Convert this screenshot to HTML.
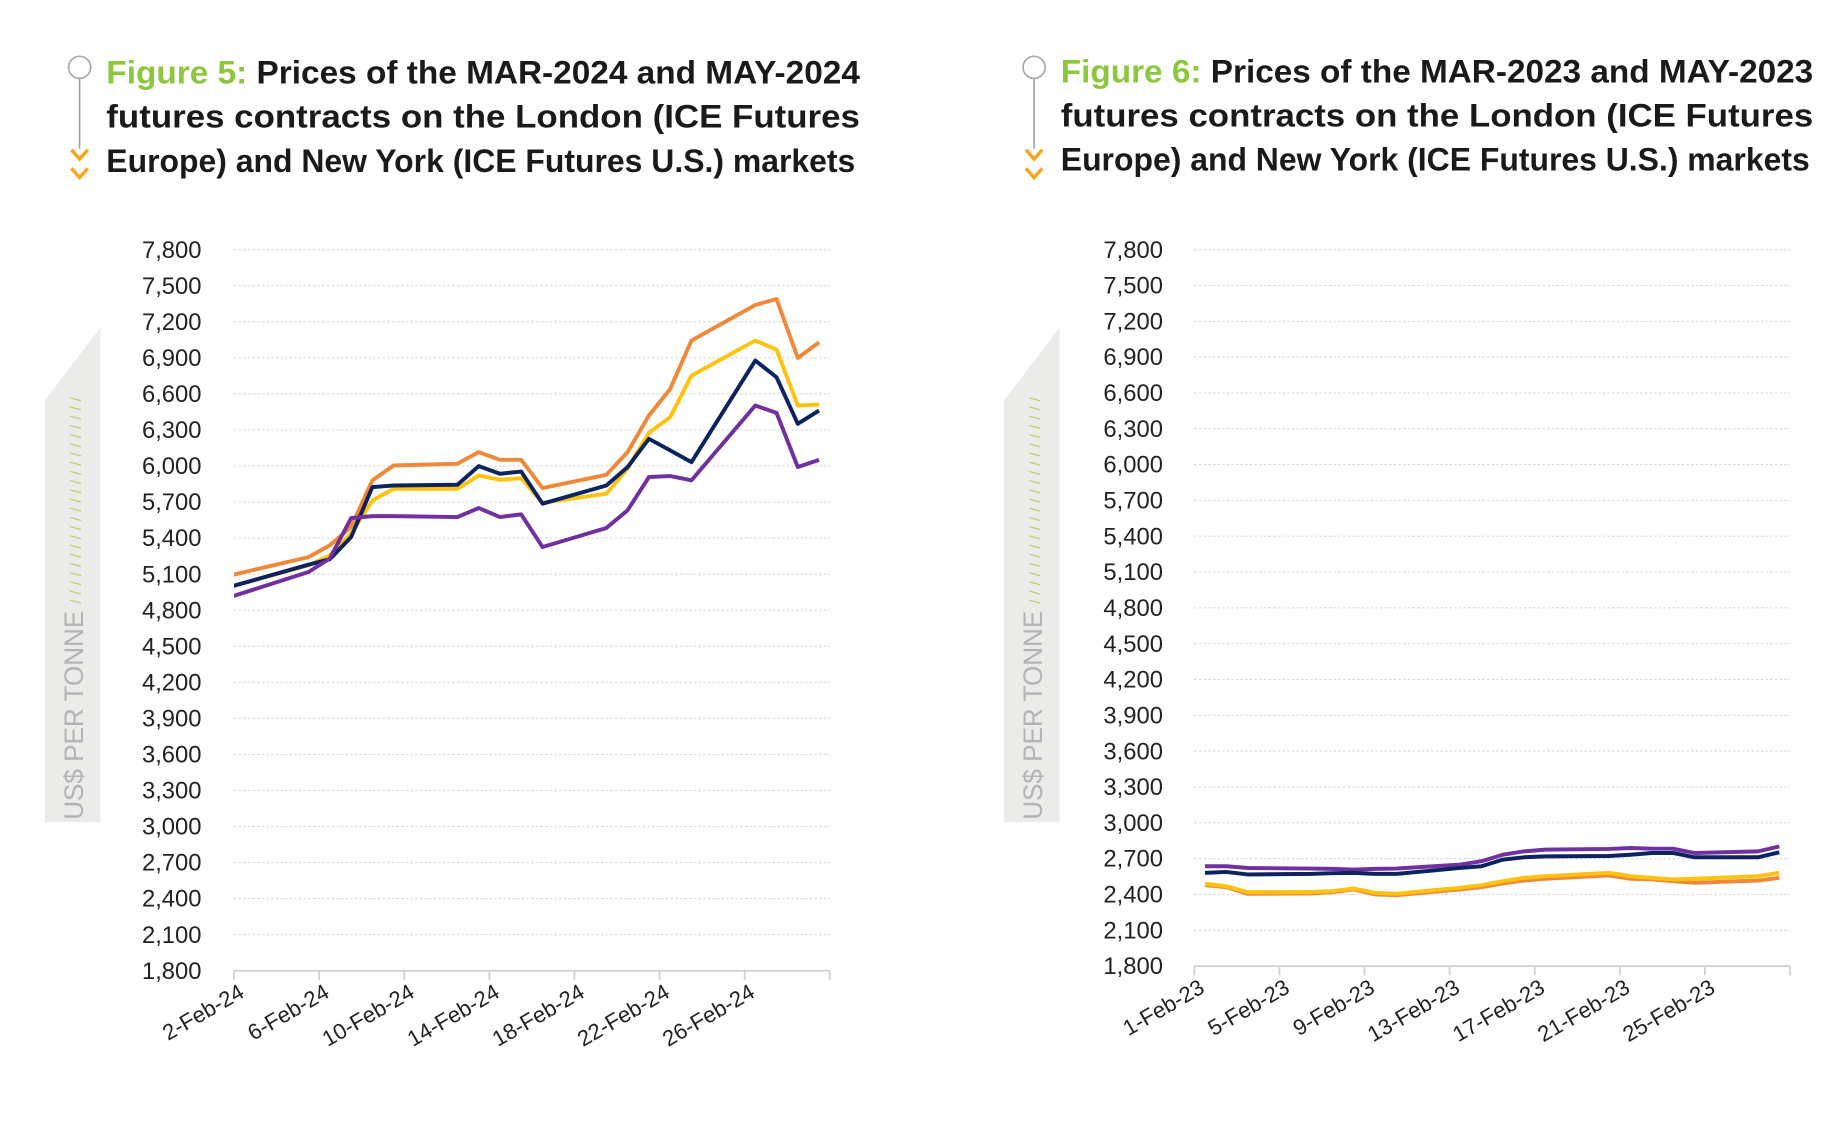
<!DOCTYPE html>
<html><head><meta charset="utf-8"><style>
html,body{margin:0;padding:0;background:#fff;}
svg{display:block;font-family:"Liberation Sans",sans-serif;}
</style></head><body>
<svg id="root" width="1822" height="1124" viewBox="0 0 1568 968" xmlns="http://www.w3.org/2000/svg">
<g id="titles">
  <g>
    <circle cx="68" cy="58" r="9.5" fill="#fff" stroke="#aaa" stroke-width="1.5"/>
    <line x1="68" y1="68" x2="68" y2="128" stroke="#999" stroke-width="1.3"/>
    <path d="M61,129 L68,137 L75,129" fill="none" stroke="#F5A623" stroke-width="3"/>
    <path d="M61,145 L68,153 L75,145" fill="none" stroke="#F5A623" stroke-width="3"/>
  </g>
  <text x="91" y="72" font-size="28" font-weight="bold" textLength="649" lengthAdjust="spacingAndGlyphs" fill="#1a1a1a"><tspan fill="#8DC63F">Figure 5:</tspan> Prices of the MAR-2024 and MAY-2024</text>
  <text x="91" y="110" font-size="28" font-weight="bold" textLength="649" lengthAdjust="spacingAndGlyphs" fill="#1a1a1a">futures   contracts   on   the   London   (ICE   Futures</text>
  <text x="91" y="148" font-size="28" font-weight="bold" textLength="645" lengthAdjust="spacingAndGlyphs" fill="#1a1a1a">Europe) and New York (ICE Futures U.S.) markets</text>

  <g>
    <circle cx="890" cy="58" r="9.5" fill="#fff" stroke="#aaa" stroke-width="1.5"/>
    <line x1="890" y1="68" x2="890" y2="128" stroke="#999" stroke-width="1.3"/>
    <path d="M883,129 L890,137 L897,129" fill="none" stroke="#F5A623" stroke-width="3"/>
    <path d="M883,145 L890,153 L897,145" fill="none" stroke="#F5A623" stroke-width="3"/>
  </g>
  <text x="913" y="71" font-size="28" font-weight="bold" textLength="648" lengthAdjust="spacingAndGlyphs" fill="#1a1a1a"><tspan fill="#8DC63F">Figure 6:</tspan> Prices of the MAR-2023 and MAY-2023</text>
  <text x="913" y="109" font-size="28" font-weight="bold" textLength="648" lengthAdjust="spacingAndGlyphs" fill="#1a1a1a">futures   contracts   on   the   London   (ICE   Futures</text>
  <text x="913" y="147" font-size="28" font-weight="bold" textLength="645" lengthAdjust="spacingAndGlyphs" fill="#1a1a1a">Europe) and New York (ICE Futures U.S.) markets</text>
</g>
<g id="chart5"></g>
<g id="chart6"></g>
</svg>
<script>
// ---- Figure 5 data (Feb 2024) ----
const days5 = [1,5,6,7,8,9,12,13,14,15,16,19,20,21,22,23,26,27,28,29];
const londonMar5 = [5076,5242,5339,5492,5880,6004,6018,6115,6051,6051,5816,5927,6115,6420,6641,7043,7339,7389,6899,7029];
const londonMay5 = [4979,5173,5256,5436,5713,5810,5810,5921,5885,5899,5694,5769,5977,6276,6406,6752,7043,6968,6503,6511];
const nyMar5 = [4979,5179,5223,5408,5824,5838,5843,5999,5935,5954,5686,5838,5990,6226,6129,6032,6877,6738,6351,6461];
const nyMay5 = [4891,5118,5229,5566,5583,5583,5575,5650,5575,5597,5326,5484,5631,5908,5916,5880,6503,6442,5991,6051];
const xTicks5 = ["2-Feb-24","6-Feb-24","10-Feb-24","14-Feb-24","18-Feb-24","22-Feb-24","26-Feb-24"];
// ---- Figure 6 data (Feb 2023) ----
const days6 = [1,2,3,6,7,8,9,10,13,14,15,16,17,20,21,22,23,24,27,28];
const londonMar6 = [2478,2461,2406,2408,2419,2442,2400,2394,2442,2461,2492,2517,2531,2559,2531,2525,2511,2497,2517,2539];
const londonMay6 = [2489,2469,2419,2419,2428,2450,2414,2406,2456,2478,2511,2539,2553,2581,2553,2539,2525,2531,2553,2581];
const nyMar6 = [2581,2589,2567,2572,2578,2581,2572,2572,2622,2636,2692,2711,2719,2722,2733,2747,2747,2711,2711,2753];
const nyMay6 = [2636,2636,2622,2617,2614,2608,2614,2617,2650,2678,2733,2761,2775,2781,2789,2783,2783,2747,2761,2803];
const xTicks6 = ["1-Feb-23","5-Feb-23","9-Feb-23","13-Feb-23","17-Feb-23","21-Feb-23","25-Feb-23"];
const yTicks = [1800,2100,2400,2700,3000,3300,3600,3900,4200,4500,4800,5100,5400,5700,6000,6300,6600,6900,7200,7500,7800];

const NS="http://www.w3.org/2000/svg";
function mk(tag,attrs,parent){const e=document.createElementNS(NS,tag);for(const k in attrs)e.setAttribute(k,attrs[k]);parent.appendChild(e);return e;}

function drawChart(g, cfg){
  const {x0,x1,yTop,yBot,firstDay,labelX,bandX,ticks,days,series,order,id}=cfg;
  const dayW=(x1-x0)/28;
  const xs=d=>x0+(d-firstDay+0.5)*dayW;
  const ys=v=>yBot-(v-1800)/6000*(yBot-yTop);
  const band=mk('path',{d:`M${bandX},345 L${bandX+48},282 L${bandX+48},708 L${bandX},708 Z`,fill:'#ebebea'},g);
  
  
  const yt=mk('text',{x:0,y:0,transform:`translate(${bandX+33},706) rotate(-90)`,'font-size':'23','fill':'#b3b3b3','textLength':'180','lengthAdjust':'spacingAndGlyphs'},g);
  yt.textContent='US$ PER TONNE';
  
  
  const hatch=mk('text',{x:0,y:0,transform:`translate(${bandX+31},520) rotate(-90)`,'font-size':'13','fill':'#b5cf6a','textLength':'178','lengthAdjust':'spacing'},g);
  hatch.textContent='///////////////////////';
  
  
  yTicks.forEach(v=>{
    const y=ys(v);
    if(v>1800){
      const l=mk('line',{x1:x0,x2:x1,y1:y,y2:y,stroke:'#d9d9d9','stroke-width':'1','stroke-dasharray':'2,2'},g);
      
      
    }
    const t=mk('text',{x:labelX,y:y+7,'text-anchor':'end','font-size':'20.5','fill':'#222'},g);
    t.textContent=v.toLocaleString('en-US');
    
    
  });
  const ax=mk('line',{x1:x0,x2:x1,y1:yBot,y2:yBot,stroke:'#d0d0d0','stroke-width':'1.5'},g);
  
  
  for(let i=0;i<=7;i++){
    const tx=x0+i*4*dayW;
    const tk=mk('line',{x1:tx,x2:tx,y1:yBot,y2:yBot+8,stroke:'#d0d0d0','stroke-width':'1.5'},g);
    
    
    if(i<7){
      const t=mk('text',{x:0,y:0,transform:`translate(${tx+10},${yBot+22}) rotate(-30)`,'text-anchor':'end','font-size':'19','fill':'#222'},g);
      t.textContent=ticks[i];
      
      
    }
  }
  const cp=mk('clipPath',{id:'clip'+id},g);
  mk('rect',{x:x0,y:yTop-20,width:x1-x0+4,height:yBot-yTop+40},cp);
  const colors={londonMar:'#F0883A',londonMay:'#FFC20E',nyMar:'#0B2460',nyMay:'#7030A0'};
  order.forEach(k=>{
    const vals=series[k];
    const pts=vals.map((v,i)=>xs(days[i]).toFixed(1)+','+ys(v).toFixed(1)).join(' ');
    const pl=mk('polyline',{points:pts,fill:'none',stroke:colors[k],'stroke-width':'3.4','stroke-linejoin':'round','clip-path':`url(#clip${id})`},g);
    
    
  });
}
drawChart(document.getElementById('chart5'),{id:5,x0:201,x1:714,yTop:215,yBot:836,firstDay:2,labelX:173,bandX:38,ticks:xTicks5,days:days5,
  series:{londonMar:londonMar5,londonMay:londonMay5,nyMar:nyMar5,nyMay:nyMay5},order:['londonMar','londonMay','nyMar','nyMay']});
drawChart(document.getElementById('chart6'),{id:6,x0:1028,x1:1541,yTop:215,yBot:832,firstDay:1,labelX:1001,bandX:864,ticks:xTicks6,days:days6,
  series:{londonMar:londonMar6,londonMay:londonMay6,nyMar:nyMar6,nyMay:nyMay6},order:['nyMay','nyMar','londonMar','londonMay']});
</script>
</body></html>
